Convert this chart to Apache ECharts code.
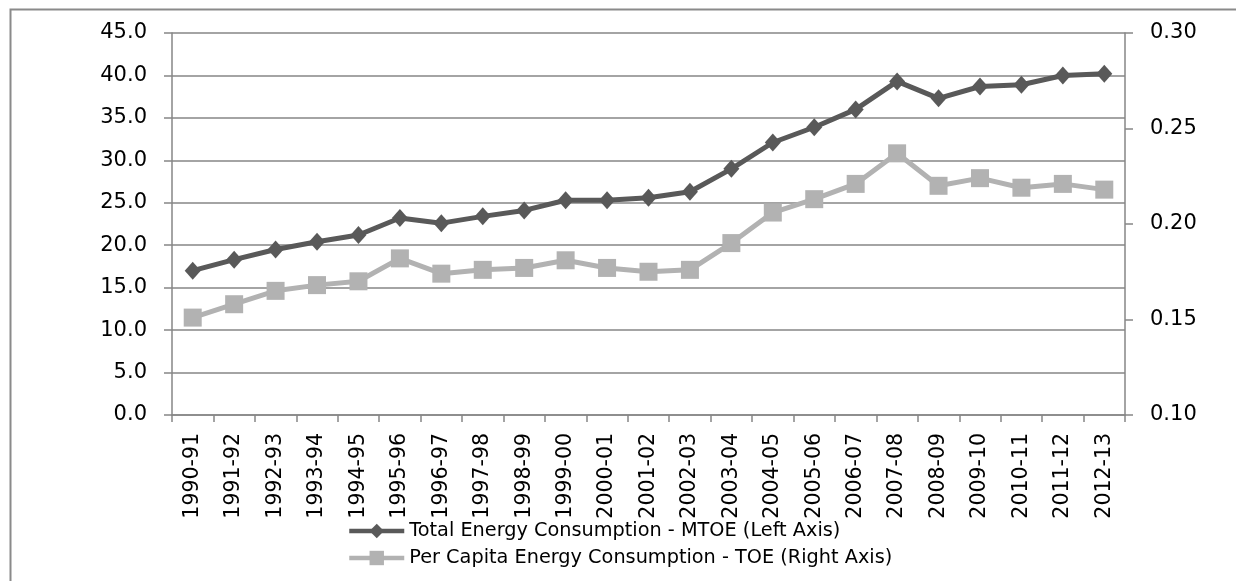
<!DOCTYPE html>
<html>
<head>
<meta charset="utf-8">
<script src="https://cdn.jsdelivr.net/npm/echarts@6/dist/echarts.min.js"></script>
<style>
  html, body { margin: 0; padding: 0; background: #ffffff; }
  #chart { width: 1236px; height: 581px; }
</style>
</head>
<body>
<div id="chart"></div>
<script>
// Fiscal years on the category axis
const years = [
  '1990-91', '1991-92', '1992-93', '1993-94', '1994-95', '1995-96',
  '1996-97', '1997-98', '1998-99', '1999-00', '2000-01', '2001-02',
  '2002-03', '2003-04', '2004-05', '2005-06', '2006-07', '2007-08',
  '2008-09', '2009-10', '2010-11', '2011-12', '2012-13'
];

// Total energy consumption, million tonnes of oil equivalent (left axis)
const totalMtoe = [
  17.0, 18.3, 19.5, 20.4, 21.2, 23.2, 22.6, 23.4, 24.1, 25.3, 25.3, 25.6,
  26.3, 29.0, 32.1, 33.9, 36.0, 39.3, 37.3, 38.7, 38.9, 40.0, 40.2
];

// Per capita energy consumption, tonnes of oil equivalent (right axis)
const perCapitaToe = [
  0.151, 0.158, 0.165, 0.168, 0.170, 0.182, 0.174, 0.176, 0.177, 0.181, 0.177, 0.175,
  0.176, 0.190, 0.206, 0.213, 0.221, 0.237, 0.220, 0.224, 0.219, 0.221, 0.218
];

const seriesNames = [
  'Total Energy Consumption - MTOE (Left Axis)',
  'Per Capita Energy Consumption - TOE (Right Axis)'
];

const axisGrey = '#868686';
const labelFont = 'DejaVu Sans';

const chart = echarts.init(document.getElementById('chart'), null, { renderer: 'canvas' });

chart.setOption({
  animation: false,
  backgroundColor: '#ffffff',
  graphic: [{
    type: 'rect',
    left: 8,
    top: 7,
    shape: { x: 0, y: 0, width: 1240, height: 590 },
    style: { fill: 'none', stroke: '#8a8a8a', lineWidth: 2 },
    silent: true,
    z: -10
  }],
  grid: { left: 172, right: 111, top: 33, bottom: 166, containLabel: false },
  legend: {
    orient: 'vertical',
    left: 347,
    top: 520,
    padding: 0,
    itemWidth: 55,
    itemHeight: 18,
    itemGap: 5,
    data: seriesNames,
    lineStyle: { width: 4.5 },
    textStyle: { color: '#000000', fontFamily: labelFont, fontSize: 19.3, lineHeight: 22 }
  },
  xAxis: {
    type: 'category',
    data: years,
    boundaryGap: true,
    axisLine: { lineStyle: { color: axisGrey, width: 1.5 } },
    axisTick: { show: true, alignWithLabel: false, length: 7, lineStyle: { color: axisGrey, width: 1.5 } },
    axisLabel: {
      rotate: 90,
      interval: 0,
      margin: 18,
      color: '#000000',
      fontFamily: labelFont,
      fontSize: 20.5
    },
    splitLine: { show: false }
  },
  yAxis: [
    {
      type: 'value',
      position: 'left',
      min: 0,
      max: 45,
      interval: 5,
      axisLine: { show: true, lineStyle: { color: axisGrey, width: 1.5 } },
      axisTick: { show: true, length: 8, lineStyle: { color: axisGrey, width: 1.5 } },
      axisLabel: {
        margin: 25,
        color: '#000000',
        fontFamily: labelFont,
        fontSize: 21,
        formatter: v => v.toFixed(1)
      },
      splitLine: { show: true, lineStyle: { color: axisGrey, width: 1.5 } }
    },
    {
      type: 'value',
      position: 'right',
      min: 0.10,
      max: 0.30,
      interval: 0.05,
      axisLine: { show: true, lineStyle: { color: axisGrey, width: 1.5 } },
      axisTick: { show: true, length: 8, lineStyle: { color: axisGrey, width: 1.5 } },
      axisLabel: {
        margin: 25,
        color: '#000000',
        fontFamily: labelFont,
        fontSize: 21,
        formatter: v => v.toFixed(2)
      },
      splitLine: { show: false }
    }
  ],
  series: [
    {
      name: seriesNames[0],
      type: 'line',
      yAxisIndex: 0,
      data: totalMtoe,
      symbol: 'diamond',
      symbolSize: [16, 18],
      color: '#595959',
      lineStyle: { color: '#595959', width: 5 },
      itemStyle: { color: '#595959' },
      z: 3
    },
    {
      name: seriesNames[1],
      type: 'line',
      yAxisIndex: 1,
      data: perCapitaToe,
      symbol: 'rect',
      symbolSize: 18,
      color: '#b2b2b2',
      lineStyle: { color: '#b2b2b2', width: 5 },
      itemStyle: { color: '#b2b2b2' },
      z: 2
    }
  ]
});
</script>
</body>
</html>
